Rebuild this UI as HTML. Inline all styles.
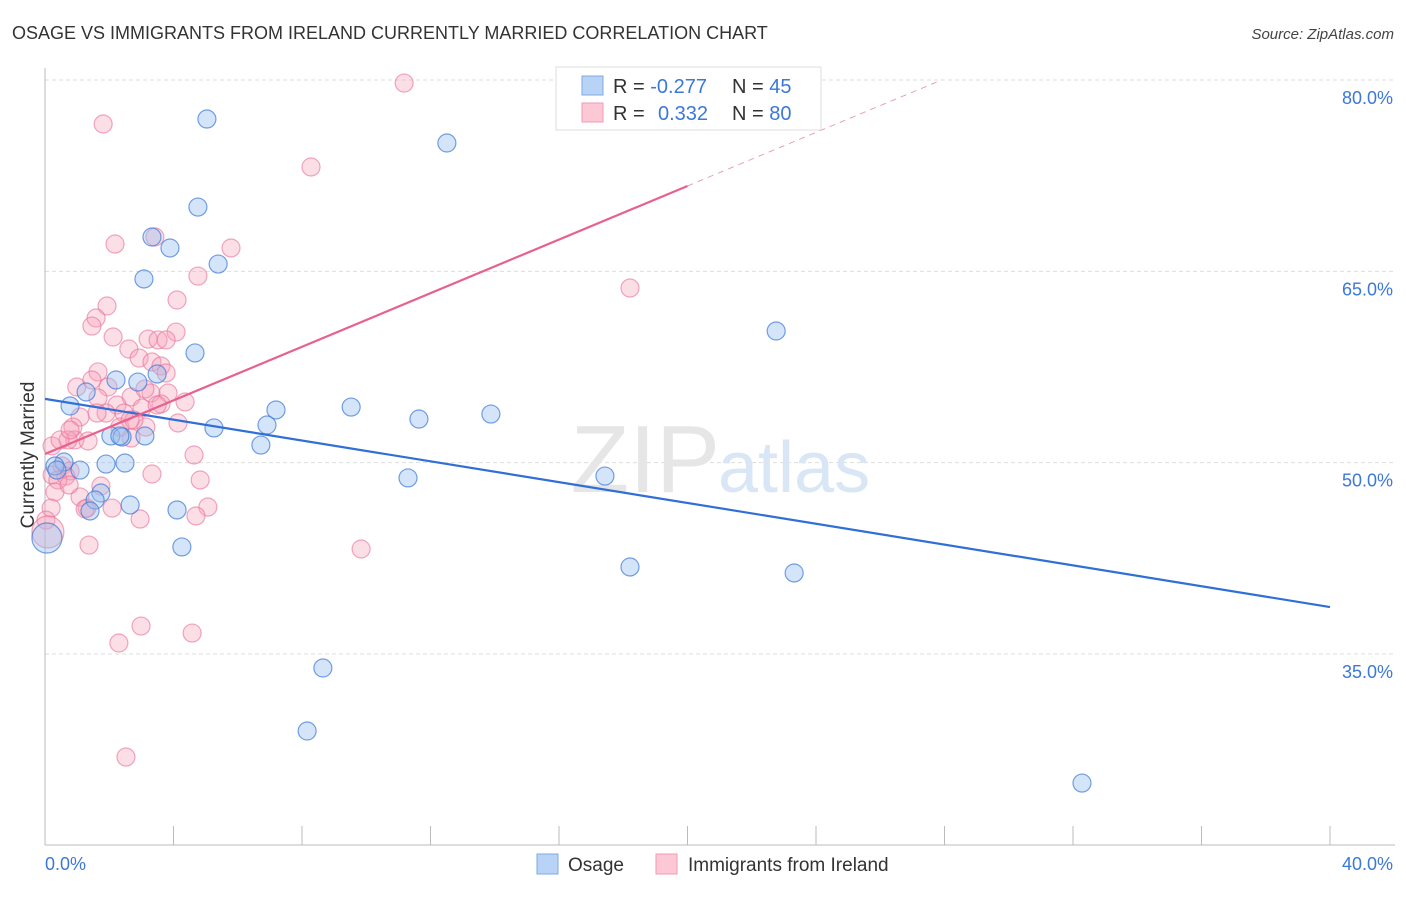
<!DOCTYPE html>
<html><head><meta charset="utf-8"><style>
body{margin:0;background:#fff;font-family:"Liberation Sans",sans-serif}
svg text{font-family:"Liberation Sans",sans-serif}
</style></head><body>
<svg id="c" width="1406" height="892" xmlns="http://www.w3.org/2000/svg">
<text x="12" y="39" font-size="18" fill="#333">OSAGE VS IMMIGRANTS FROM IRELAND CURRENTLY MARRIED CORRELATION CHART</text>
<text x="1394" y="39" font-size="15" fill="#444" text-anchor="end" font-style="italic">Source: ZipAtlas.com</text>
<g id="grid"></g>
<text x="720" y="492" font-size="96" fill="#e6e6e6" text-anchor="end" font-family="Liberation Serif">ZIP</text>
<text x="718" y="492" font-size="72" fill="#d9e6f5">atlas</text>
<line x1="45" y1="68" x2="45" y2="845" stroke="#bbb"/>
<line x1="45" y1="845" x2="1395" y2="845" stroke="#bbb"/>
<g id="ticks"></g>
<g id="pts"></g>
<g id="lines"></g>
<text x="34" y="455" font-size="19" fill="#333" text-anchor="middle" transform="rotate(-90 34 455)">Currently Married</text>
<text x="45" y="870" font-size="18" fill="#3b78d8">0.0%</text>
<text x="1393" y="870" font-size="18" fill="#3b78d8" text-anchor="end">40.0%</text>
<g>
<rect x="556" y="67" width="265" height="63" fill="#fff" stroke="#ddd"/>
<rect x="582" y="76" width="21" height="19" fill="#b8d3f5" stroke="#7fa8e0"/>
<rect x="582" y="103" width="21" height="19" fill="#fcc8d6" stroke="#f09ab3"/>
<text x="613" y="93" font-size="20" fill="#333">R = <tspan fill="#3b78d8">-0.277</tspan><tspan x="732">N = </tspan><tspan fill="#3b78d8">45</tspan></text>
<text x="613" y="120" font-size="20" fill="#333">R = <tspan x="658" fill="#3b78d8">0.332</tspan><tspan x="732">N = </tspan><tspan fill="#3b78d8">80</tspan></text>
</g>
<g>
<rect x="537" y="854" width="21" height="20" fill="#b8d3f5" stroke="#7fa8e0"/>
<text x="568" y="871" font-size="19" fill="#333">Osage</text>
<rect x="656" y="854" width="21" height="20" fill="#fcc8d6" stroke="#f09ab3"/>
<text x="688" y="871" font-size="19" fill="#333">Immigrants from Ireland</text>
</g>
</svg>
<script>
const yTicks=[80,65,50,35];
const yTickLabels=["80.0%","65.0%","50.0%","35.0%"];
const xTicks=[0,4,8,12,16,20,24,28,32,36,40];
const osageX=[5.04,12.51,4.76,3.33,3.89,5.39,3.08,22.76,4.67,2.21,2.89,3.49,1.28,0.78,7.19,9.53,13.88,11.64,6.91,5.26,2.05,2.40,3.11,6.72,0.59,0.31,1.09,1.90,2.49,11.30,17.43,1.74,1.56,2.65,1.40,4.11,4.26,18.21,23.32,8.65,8.16,32.28,0.06,0.37,2.33];
const osageY=[76.94,75.06,70.04,67.69,66.83,65.57,64.40,60.32,58.60,56.48,56.32,56.95,55.54,54.44,54.13,54.36,53.81,53.42,52.95,52.72,52.09,52.01,52.09,51.38,50.05,49.74,49.42,49.89,49.97,48.80,48.95,47.62,47.07,46.68,46.21,46.29,43.39,41.82,41.35,33.90,28.96,24.88,44.09,49.42,52.09];
const osageR=[9,9,9,9,9,9,9,9,9,9,9,9,9,9,9,9,9,9,9,9,9,9,9,9,9,9,9,9,9,9,9,9,9,9,9,9,9,9,9,9,9,9,15,9,9];
const irelandX=[11.18,1.81,8.28,3.42,2.18,5.79,4.76,4.11,1.93,1.59,1.46,2.12,3.21,4.08,3.52,3.77,2.61,2.93,3.33,3.61,3.77,1.65,0.99,1.96,1.65,2.68,2.24,3.30,3.83,4.36,3.61,3.02,2.46,1.09,1.90,2.33,3.14,2.77,4.14,0.87,0.93,0.72,1.34,2.68,0.22,4.64,0.53,0.78,0.22,0.65,0.40,1.74,4.83,3.33,0.31,1.09,0.75,2.09,1.31,5.07,4.70,2.96,0.19,0.03,1.37,9.84,2.99,4.58,2.30,2.52,18.21,0.09,1.25,0.47,0.78,1.62,3.11,3.49,2.65,1.46];
const irelandY=[79.76,76.55,73.18,67.69,67.14,66.83,64.63,62.75,62.28,61.34,60.71,59.85,59.69,60.24,59.62,59.62,58.91,58.20,57.89,57.58,57.03,57.11,55.93,55.93,55.07,55.15,54.52,55.46,55.46,54.76,54.60,54.28,53.89,53.58,53.89,52.79,52.79,53.34,53.11,52.79,51.78,51.78,51.70,51.93,51.31,50.60,49.74,49.35,49.03,48.95,48.64,48.17,48.64,49.11,47.70,47.31,48.25,46.44,46.44,46.52,45.82,45.58,46.44,45.50,43.54,43.23,37.19,36.64,35.86,26.92,63.69,44.56,46.37,51.78,52.56,53.89,55.77,54.52,53.34,56.48];
const irelandR=[9,9,9,9,9,9,9,9,9,9,9,9,9,9,9,9,9,9,9,9,9,9,9,9,9,9,9,9,9,9,9,9,9,9,9,9,9,9,9,9,9,9,9,9,9,9,9,9,9,9,9,9,9,9,9,9,9,9,9,9,9,9,9,9,9,9,9,9,9,9,9,16,9,9,9,9,9,9,9,9];
const osageTrend=[55.0,38.68];
const irelandTrend=[50.68,71.69];
const NS='http://www.w3.org/2000/svg';
const X=v=>45+v*32.125, Y=v=>80+(80-v)*12.755;
function mk(t,a,p){const e=document.createElementNS(NS,t);for(const k in a)e.setAttribute(k,a[k]);p.appendChild(e);return e;}
const grid=document.getElementById('grid');
yTicks.forEach((v,i)=>{
 const l=mk('line',{x1:45,x2:1395,y1:Y(v),y2:Y(v),stroke:'#ddd','stroke-dasharray':'4,3'},grid);
 
 
 const t=mk('text',{x:1393,y:Y(v)+24,'font-size':18,fill:'#3b78d8','text-anchor':'end'},grid);
 t.textContent=yTickLabels[i];
 
 
});
const ticks=document.getElementById('ticks');
xTicks.forEach(v=>{
 const l=mk('line',{x1:X(v),x2:X(v),y1:826,y2:845,stroke:'#bbb'},ticks);
 
 
});
const pts=document.getElementById('pts');
irelandX.forEach((v,i)=>{
 const c=mk('circle',{cx:X(v),cy:Y(irelandY[i]),r:irelandR[i],fill:'rgba(245,160,185,0.35)',stroke:'rgba(232,110,150,0.6)','stroke-width':1.2},pts);
 
 
});
osageX.forEach((v,i)=>{
 const c=mk('circle',{cx:X(v),cy:Y(osageY[i]),r:osageR[i],fill:'rgba(150,190,240,0.4)',stroke:'rgba(60,120,215,0.7)','stroke-width':1.2},pts);
 
 
});
const lines=document.getElementById('lines');
let b=mk('line',{x1:X(0),y1:Y(osageTrend[0]),x2:X(40),y2:Y(osageTrend[1]),stroke:'#2f6fd6','stroke-width':2.2},lines);


const sl=(irelandTrend[1]-irelandTrend[0])/20;
let p=mk('line',{x1:X(0),y1:Y(irelandTrend[0]),x2:X(20),y2:Y(irelandTrend[1]),stroke:'#e8608e','stroke-width':2.2},lines);


const xe=(80-irelandTrend[0])/sl;
let d=mk('line',{x1:X(20),y1:Y(irelandTrend[1]),x2:X(xe),y2:Y(80),stroke:'#e8a0b8','stroke-width':1,'stroke-dasharray':'6,5'},lines);


</script>
</body></html>
